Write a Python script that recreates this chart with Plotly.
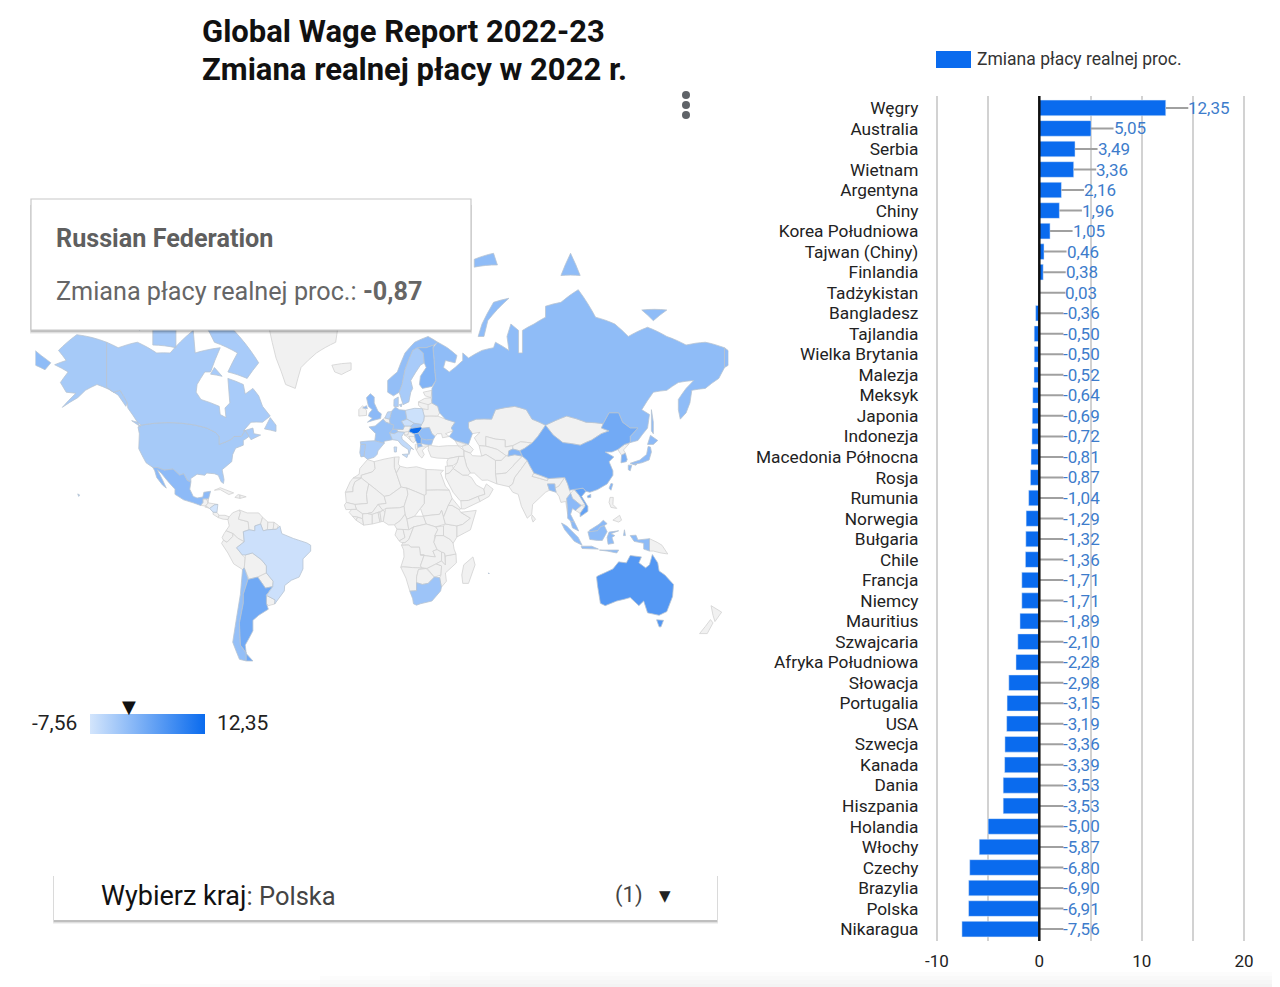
import plotly.graph_objects as go

# Dane z wykresu
kraje = ['Węgry', 'Australia', 'Serbia', 'Wietnam', 'Argentyna', 'Chiny', 'Korea Południowa',
         'Tajwan (Chiny)', 'Finlandia', 'Tadżykistan', 'Bangladesz', 'Tajlandia', 'Wielka Brytania',
         'Malezja', 'Meksyk', 'Japonia', 'Indonezja', 'Macedonia Północna', 'Rosja', 'Rumunia',
         'Norwegia', 'Bułgaria', 'Chile', 'Francja', 'Niemcy', 'Mauritius', 'Szwajcaria',
         'Afryka Południowa', 'Słowacja', 'Portugalia', 'USA', 'Szwecja', 'Kanada', 'Dania',
         'Hiszpania', 'Holandia', 'Włochy', 'Czechy', 'Brazylia', 'Polska', 'Nikaragua']
kody = ['HUN', 'AUS', 'SRB', 'VNM', 'ARG', 'CHN', 'KOR', 'TWN', 'FIN', 'TJK', 'BGD', 'THA', 'GBR',
        'MYS', 'MEX', 'JPN', 'IDN', 'MKD', 'RUS', 'ROU', 'NOR', 'BGR', 'CHL', 'FRA', 'DEU', 'MUS',
        'CHE', 'ZAF', 'SVK', 'PRT', 'USA', 'SWE', 'CAN', 'DNK', 'ESP', 'NLD', 'ITA', 'CZE', 'BRA',
        'POL', 'NIC']
zmiana = [12.35, 5.05, 3.49, 3.36, 2.16, 1.96, 1.05, 0.46, 0.38, 0.03, -0.36, -0.50, -0.50,
          -0.52, -0.64, -0.69, -0.72, -0.81, -0.87, -1.04, -1.29, -1.32, -1.36, -1.71, -1.71, -1.89,
          -2.10, -2.28, -2.98, -3.15, -3.19, -3.36, -3.39, -3.53, -3.53, -5.00, -5.87, -6.80, -6.90,
          -6.91, -7.56]
ticki_x = [-10, 0, 10, 20]

# Uproszczone granice krajów (lon,lat), bez sieci nie ma topojson z CDN
granice = {
    'RUS': ["28,60 30,62 29.5,64 29,67 28.5,69 31,70 36,69 41,67.5 40,66 35,66.5 34,65 37,64 40,65 44,66.5 44,68 47,67 54,68.5 60,69 61,70 68,68.5 67,71 69,73 73,72 73,68 75,68 75,72 81,73 87,74 87,75.5 95,76 104,77.5 113,74 123,73 130,71 140,72.5 150,71 160,69.5 170,70 180,69 180,65 177,62.5 170,60 163,59.5 162,56 160,53 157,51 156,54 156,57 160,60 164,62 156,61.5 150,59.5 143,59 137,54 141,52.5 140,48 135,43.5 131,42.7 131,45 135,48 131,48 127,50 125,53 120,53 117,49.5 108,50 98,52 92,50.5 87,49 80,51 77,54 71,55 61,54 59,51 51,51 47,50 47,48 49,46 47,42 40,43.5 37,45 39,47 38,48 40,50 35,51 32,53 31,55 28,56",
            "-180,69 -175,67.5 -170,66 -173,64.5 -178,65.5 -180,65",
            "52,71 55,71 57,73.5 68,76.5 60,76 54,73", "95,79 105,79 100,81", "137,75 150,75 143,73.5",
            "142,54 143,50 143,46 142,47 142,52", "50,80.5 60,81 62,80 50,79.8"],
    'USA': ["-124.7,48.4 -123,49 -95,49 -89,48 -84.5,46.5 -82.5,45 -82.5,42 -79,43 -76,44 -75,45 -71,45 -69,47.3 -67,45 -70,43.5 -70,41.7 -74,40.5 -75.5,38 -76,35 -81,31.5 -80,27 -80.3,25.2 -81.5,26 -83,29 -85,29.7 -89,30 -90,29 -94,29.5 -97.3,27.5 -97.2,26 -99,26.5 -101,29.7 -103,29 -106.5,31.8 -111,31.3 -114.8,32.5 -117,32.5 -120.5,34.5 -122.5,37.5 -124.3,40.3 -124,46",
            "-141,70 -156.5,71.3 -166,68.5 -162,66.5 -168,65.6 -161,64 -165,61.5 -162,59 -157,58.7 -164,54.7 -156,57.5 -152,59.5 -146,61 -140,59.8 -135,58.2 -131,55 -130.2,56 -134,59.5 -137.5,59 -141,60.3",
            "-155.5,19 -155,19.7 -156,20.2"],
    'CAN': ["-141,70 -141,60.3 -137.5,59 -134,59.5 -130.2,56 -130,54.5 -125,50 -123,49 -95,49 -89,48 -84.5,46.5 -82.5,45 -82.5,42 -79,43 -76,44 -75,45 -71,45 -69,47.3 -67,45 -66,43.8 -61,45.5 -64.5,46 -65,48 -70,47 -66,50 -60,50 -56,52 -60,55 -62,58 -65,60 -69,58.5 -70,61 -78,62.5 -77,56 -79.5,54.5 -79,51.5 -82,52.5 -82.5,55 -92,57 -94.5,59 -94,61 -90,64 -87,64 -82,69 -90,68.5 -95,68 -96,72 -108,68 -115,68 -125,70 -135,69",
            "-62,66 -68,62.5 -78,64 -73,68 -85,70 -90,73 -80,73.5 -72,71", "-105,69 -117,69.5 -117,73 -105,73",
            "-62,82.5 -75,83 -90,81 -88,77 -78,76.5 -75,79", "-124,72 -116,73.5 -120,74.5 -125,74",
            "-59,47.7 -53,46.8 -53,49 -56,51.5", "-80,75 -92,75 -92,76.5 -80,76", "-128,50.5 -123.5,48.5 -125,50",
            "-81,63 -85,65 -87,63.5"],
    'GRL': ["-73,78 -60,82 -35,83.5 -18,81 -20,74 -22,70 -32,68 -40,65 -43,60 -48,61 -53,67 -55,70 -60,76"],
    'ISL': ["-24,65.5 -14,66 -14,64.5 -19,63.4 -22.5,64"],
    'MEX': ["-117,32.5 -114.8,32.5 -111,31.3 -106.5,31.8 -103,29 -101,29.7 -99,26.5 -97.2,26 -97.8,22.5 -96,19 -94,18.2 -91,18.7 -90.5,21 -87,21.5 -88,18 -89,17.8 -91,17.8 -91,16 -92.2,14.5 -96,15.8 -101,17.3 -105.5,20 -105.5,22.5 -109,26 -112.7,30 -114.7,31.5 -112,27 -110,23 -112,24.5 -115,28 -116,31"],
    'NIC': ["-87.5,13 -85,14.8 -83.2,15 -83.7,11 -85.7,11.1"],
    'GTM': ["-92.2,14.5 -91,16 -91,17.8 -89,17.8 -88.3,15.8 -89.5,14.2"],
    'BLZ': ["-89,17.8 -88,18 -88.3,15.8"],
    'HND': ["-89.5,14.2 -88.3,15.8 -83.2,15 -85,14.8 -87.5,13"],
    'SLV': ["-90,13.7 -88,13.2 -89.5,14.2"],
    'CRI': ["-85.7,11.1 -83.7,11 -82.6,9.5 -83,8.3 -85.7,10"],
    'PAN': ["-83,8.3 -82.6,9.5 -79.5,9.5 -77.3,8.7 -78,7.3 -80.5,7.5"],
    'CUB': ["-85,22 -82,23.2 -75,20.7 -77.5,19.9 -82,22.3"],
    'HTI': ["-74.4,18.5 -72.7,19.9 -71.7,19.7 -71.7,18"],
    'DOM': ["-71.7,19.7 -68.5,18.8 -71.7,18"],
    'COL': ["-77.3,8.7 -75.5,10.8 -72,12.2 -71.5,11 -72.5,7.5 -67.5,6.2 -67,2 -70,1 -69.5,-4.2 -73,-2.3 -75.3,0 -79,1.5 -77.3,4 -78,7.3"],
    'VEN': ["-72,12.2 -68,10.7 -62,10.7 -60,8.5 -61,5 -64,4 -64,1.5 -67,2 -67.5,6.2 -72.5,7.5 -71.5,11"],
    'GUY': ["-60,8.5 -57.2,6 -57.5,2 -59.7,1.5 -61,5"],
    'SUR': ["-57.2,6 -54,5.9 -54.5,2.2 -57.5,2"],
    'GUF': ["-54,5.9 -51.7,4.2 -52.7,2.3 -54.5,2.2"],
    'ECU': ["-79,1.5 -75.3,0 -75.5,-1.5 -78.5,-4.5 -80.3,-3.4 -81,-2 -80,0"],
    'PER': ["-80.3,-3.4 -78.5,-4.5 -75.5,-1.5 -75.3,0 -73,-2.3 -69.5,-4.2 -73.5,-7.3 -70.5,-11 -69,-12.5 -69.5,-17.5 -70.4,-18.3 -75,-15.5 -78,-10 -81.3,-5"],
    'BOL': ["-69,-11 -65.3,-10 -60.5,-13.5 -58,-16.5 -58,-20 -62.5,-22 -67,-23 -69.5,-17.5 -69,-12.5"],
    'PRY': ["-62.5,-22 -58,-20 -54.5,-24 -54.7,-26.5 -58.5,-27.2"],
    'URY': ["-58,-34 -58,-30.5 -53.5,-32.5 -53.7,-34.3 -57,-35"],
    'CHL': ["-69.5,-17.5 -67.5,-23 -70,-30 -70,-34 -72,-42 -71.5,-50 -68.5,-52.5 -68.5,-55 -72,-54.5 -75.5,-49 -73.5,-40 -71.5,-30 -70.4,-18.3"],
    'ARG': ["-67,-23 -62.5,-22 -58.5,-27.2 -54.7,-26.5 -58,-30.5 -58,-34 -57,-36.5 -62,-39 -65,-41 -65,-45 -69,-50 -68.5,-52.5 -71.5,-50 -72,-42 -70,-34 -70,-30 -67.5,-23",
            "-68.5,-52.7 -65,-55 -68.5,-55"],
    'BRA': ["-69.5,-4.2 -70,1 -67,2 -64,1.5 -64,4 -61,5 -59.7,1.5 -57.5,2 -54.5,2.2 -52.7,2.3 -51,4 -50,0 -44,-2.5 -37,-4.8 -35,-6 -35,-9 -39,-13 -39,-18 -41,-22 -45,-23.5 -48.5,-26 -48.7,-28.5 -53.7,-34.3 -53.5,-32.5 -58,-30.5 -54.7,-26.5 -54.5,-24 -58,-20 -58,-16.5 -60.5,-13.5 -65.3,-10 -69,-11 -70.5,-11 -73.5,-7.3"],
    # Afryka
    'MAR': ["-13,27.7 -8.7,27.7 -8.7,29 -3,30.5 -1.5,32 -2,35 -5.5,35.9 -9.5,32 -9.8,29.5"],
    'ESH': ["-17,21 -13,21.3 -13,23.5 -12,26 -8.7,27.7 -13,27.7 -14.5,26"],
    'DZA': ["-8.7,27.7 -4.8,25 3.2,19 6,19.5 12,23.5 9.5,30 8.5,32.5 8.5,36.9 -2,35 -1.5,32 -3,30.5 -8.7,29"],
    'TUN': ["8.5,36.9 11,37 10.5,34 11.5,33 9.5,30 8.5,32.5"],
    'LBY': ["11.5,33 15,32.3 20,32.8 25,31.6 25,20 24,19.5 15,23 12,23.5 9.5,30"],
    'EGY': ["25,31.6 34,31.2 32.5,30 35,24 37,22 25,22"],
    'SDN': ["25,22 37,22 38.5,18 36.5,14.5 34,8.5 33,12 32,10 27,9.5 23.5,9 22,13 24,15.5 24,19.5 25,20"],
    'SSD': ["23.5,9 27,9.5 32,10 33,12 34,8.5 35,5 30,3.5 25,5"],
    'MRT': ["-17,21 -13,21.3 -13,23.5 -12,26 -8.7,27.7 -4.8,25 -6,20 -5.5,15.5 -12,15 -16.5,16"],
    'MLI': ["-12,15 -5.5,15.5 -6,20 -4.8,25 3.2,19 4.2,15.5 0,15 -3,11 -5.5,10.4 -8,10.2 -11.3,12.5"],
    'NER': ["3.2,19 6,19.5 12,23.5 15,23 15.5,20 13.5,14 11,13.3 4,13 2.5,12 0,15 4.2,15.5"],
    'TCD': ["15,23 24,19.5 24,15.5 22,13 19,9 15,7.5 14,10 13.5,14 15.5,20"],
    'SEN': ["-16.5,16 -12,15 -11.3,12.5 -16.7,12.4 -17.5,14.7"],
    'GIN': ["-15,11 -13.7,12.5 -11.3,12.5 -8,10.2 -8,7.7 -10.5,8.5 -13.3,9"],
    'SLE': ["-13.3,9 -10.5,8.5 -11.5,7"],
    'LBR': ["-11.5,7 -10.5,8.5 -8,7.7 -7.5,4.4"],
    'CIV': ["-8,10.2 -5.5,10.4 -3,10 -3,5 -7.5,4.4 -8,7.7"],
    'BFA': ["-5.5,10.4 -3,11 0,15 2.5,12 0,11 -3,10"],
    'GHA': ["-3,10 0,11 1,6 -3,5"],
    'TGO': ["0,11 1,11 1.7,6.2 1,6"],
    'BEN': ["1,11 2.5,12 3.7,11.5 2.7,6.3 1.7,6.2"],
    'NGA': ["2.7,6.3 3.7,11.5 4,13 11,13.3 13.5,14 14,10 11.5,6.7 8.5,4.6 5.5,4.5"],
    'CMR': ["8.5,4.6 11.5,6.7 14,10 15,7.5 16,2 9.8,2.3"],
    'CAF': ["15,7.5 19,9 23.5,9 25,5 18.5,3.5 16,2"],
    'GAB': ["9.8,2.3 13,2.2 14,-2 11,-3.8 8.8,-0.7"],
    'COG': ["13,2.2 16,2 18.5,3.5 16,-3 14,-4.7 12,-4.6 11,-3.8 14,-2"],
    'COD': ["18.5,3.5 25,5 30,3.5 31,2 29.5,-1 29,-4.5 30.7,-8.2 28.5,-9 29.8,-12 27,-11.7 22,-11 21.5,-7 17,-7 16,-5.9 12.2,-6 13,-4.7 14,-4.7 16,-3"],
    'AGO': ["12.2,-6 16,-5.9 17,-7 21.5,-7 22,-11 24,-11 22,-16.5 23,-17.6 13,-17 11.8,-17.2 13.5,-12 13.3,-8.5"],
    'ZMB': ["22,-11 27,-11.7 29.8,-12 28.5,-9 30.7,-8.2 33,-9.5 33,-14 30.2,-15.5 25.5,-17.8 23,-17.6 22,-16.5 24,-11"],
    'NAM': ["11.8,-17.2 13,-17 23,-17.6 25,-17.8 21,-18.3 20,-22 20,-28.4 16.5,-28.6 14.5,-22.5"],
    'BWA': ["21,-18.3 25,-17.8 29.3,-22 26,-25 23,-25.5 20,-24.7 20,-22"],
    'ZWE': ["25.5,-17.8 30.2,-15.5 33,-16.5 32.7,-21 29.3,-22"],
    'ZAF': ["16.5,-28.6 20,-28.4 20,-24.7 23,-25.5 26,-25 29.3,-22 32,-22.3 32.9,-26.8 32.5,-28.5 28,-33 22,-34.2 20,-34.8 18.4,-34.2 18,-32"],
    'MOZ': ["30.2,-15.5 33,-14 35,-16 35,-11.5 40.5,-10.5 40.7,-15 35,-20 35.5,-24 32.9,-26.8 32,-22.3 32.7,-21 33,-16.5"],
    'MWI': ["33,-9.5 34.5,-10 35,-16 33,-14"],
    'TZA': ["30.7,-8.2 29,-4.5 30,-1 34,-1 37.5,-3 39,-5 39.5,-8 40.5,-10.5 35,-11.5 34.5,-10 33,-9.5"],
    'KEN': ["34,-1 34,4 35,5 41,4 41,-1.7 39,-5 37.5,-3"],
    'UGA': ["31,2 30,3.5 34,4 34,-1 30,-1 29.5,-1"],
    'ETH': ["34,8.5 36.5,14.5 38.5,14.5 42,12.5 43,11 48,8 44,4.8 41,4 35,5"],
    'ERI': ["36.5,14.5 38.5,18 43,12.7 42,12.5 38.5,14.5"],
    'SOM': ["43,11 51,12 48,2 41,-1.7 41,4 44,4.8 48,8"],
    'MDG': ["49.3,-12 50.4,-16 47,-25 44,-25 43.5,-21 44.5,-16"],
    'MUS': ["57.3,-20 57.8,-20.2 57.5,-20.5"],
    # Europa
    'GBR': ["-5.5,50 1.3,51.2 1.7,52.7 0,53.5 -2,56 -2,57.7 -4,58.6 -6,57.5 -5,55 -3,54 -4.5,53 -5,52 -3,51.3", "-6,55.2 -8,54.5 -5.5,54.3"],
    'IRL': ["-10,52 -6,52.2 -6,53.8 -8,55.2 -10,54"],
    'NOR': ["5,59 8,58 11,59 12.5,61 14,64.5 18,68.5 20.5,69 25,69 29,69.5 31,70 26,71 19,70 14,68 10,64 5,62"],
    'SJM': ["12,79 20,80.3 27,80 20,77 15,77"],
    'SWE': ["11,59 13,55.5 16,56.3 17,59 18,60 17,62 22,65.5 24,66 23.5,68 20.5,69 18,68.5 14,64.5 12.5,61"],
    'FIN': ["21.5,61 23,60 28,60.5 30,62 29.5,64 29,67 28.5,69 29,69.5 25,69 20.5,69 23.5,68 24,66 25,65 22,63"],
    'DNK': ["8.2,55 10.5,54.9 10.5,57.7 8.3,57", "11,55.5 12.5,55.7 12,54.8"],
    'DEU': ["6,51 7,53.5 9,54.8 11,54 14.2,53.8 15,51 12.2,50.3 13.7,48.7 13,47.5 7.6,47.6 8.2,49 6.2,49.5"],
    'NLD': ["3.5,51.4 6,51 7,53.4 5,53.3"],
    'BEL': ["2.6,51 3.5,51.4 6,51 6.2,49.5 4,50"],
    'FRA': ["-1.7,43.4 -1.2,46 -4.7,48.4 -1.5,48.7 2.6,51 4,50 6.2,49.5 8.2,49 7.6,47.6 6,46.3 7.5,43.8 3.2,43.2 3.2,42.4"],
    'CHE': ["6,46.3 7.6,47.6 9.5,47.5 10.4,46.7 8.5,46"],
    'AUT': ["9.5,47.5 13,47.5 13.7,48.7 17,48.7 16,46.8 13.7,46.5 10.4,46.7"],
    'ESP': ["-9.2,43 -1.7,43.4 3.2,42.4 0,39.5 -0.5,38 -2,36.8 -5.5,36 -7.3,37.2 -7,39.5 -6.5,42 -9,42"],
    'PRT': ["-9,42 -6.5,42 -7,39.5 -7.3,37.2 -8.9,37 -9.5,38.7"],
    'ITA': ["7.5,43.8 6,46.3 8.5,46 10.4,46.7 13.7,46.5 12.3,45 12.5,44 16,41.8 18.5,40 17,40.5 16.5,39 16,38 15.7,40 12.3,41.7 10.3,43.5",
            "12.5,38 15.6,38.2 15,36.7", "8.3,41 9.7,41 9.5,39 8.5,39"],
    'POL': ["14.2,53.8 19,54.4 23,54.3 24,52 23.7,50.5 22.6,49.2 18.8,49.6 15,51"],
    'CZE': ["12.2,50.3 15,51 18.8,49.6 17,48.7 13.7,48.7"],
    'SVK': ["17,48.7 18.8,49.6 22.6,49.2 22,48.4 17.5,47.9"],
    'HUN': ["16,46.8 17,48 17.5,47.9 22,48.4 22.9,47.9 21,46.2 18.8,45.9"],
    'SVN': ["13.7,46.5 16,46.8 15.5,45.5 13.7,45.5"],
    'HRV': ["13.7,45.5 15.5,45.5 16,46.8 18.8,45.9 19,45 16,45 17.5,43 14.8,45"],
    'BIH': ["16,45 19,45 19.5,43.5 18.5,42.6 17.5,43"],
    'SRB': ["18.8,45.9 21,46.2 22.5,44.5 22.4,42.3 20.5,42.2 19.5,43.5 19,45"],
    'MKD': ["20.5,42.2 22.4,42.3 23,41.3 20.7,40.9"],
    'ALB': ["19.3,42 20.5,42.2 20.7,40.9 20,39.7 19.4,40.5"],
    'ROU': ["21,46.2 22.9,47.9 26.6,48.2 28,46 29.6,45 28.6,43.8 25,43.7 22.7,44"],
    'BGR': ["22.4,42.3 22.5,44.2 25,43.7 28.6,43.8 27.8,42 26.3,41.8"],
    'GRC': ["20,39.7 20.7,40.9 23,41.3 26.3,41.5 24,40.5 23,39.5 24,38 22.8,36.5 21.5,37.5"],
    'TUR': ["26,40 26.3,41.8 28,41.5 31.5,41.2 36,41.5 41.5,41.5 44.5,39.7 44.7,37.2 42,37.2 36.5,36.3 30.7,36.5 27.5,37"],
    'UKR': ["23.7,50.5 24,52 31,52 35,51 40,50 38,48 39,47 35,46 37,45 33.5,44.5 33,46 30.7,46 29.6,45 28,46 26.6,48.2 22.9,47.9 22,48.4 22.6,49.2"],
    'BLR': ["24,52 23,53.5 26,55.5 28,56 31,55 32,53 31,52"],
    'LTU': ["21,55.3 21,56.3 26,56 26,54 23,54.3"],
    'LVA': ["21,56.3 24.2,57.3 27.5,57.5 28,56 26,55.5"],
    'EST': ["23.5,59 28,59.5 27.5,57.5 24.5,58"],
    # Azja
    'GEO': ["40,43.5 46,41.8 43.5,41.2 41.5,41.5"],
    'AZE': ["43.5,41.2 46,41.8 47,42 49.5,40 48,38.5 44.7,39.5"],
    'KAZ': ["47,50 51,51 59,51 61,54 71,55 77,54 80,51 87,49 85,47 83,45 80,42.5 74,43 70,41.5 66,41 66,43.7 61,44 56,45 56,41.3 52.5,41.5 50,44.5 53,46.5 49,46 47,48"],
    'UZB': ["56,45 61,44 66,43.7 66,41 70,41.5 70,40.2 68,39.5 67.5,37.3 66.5,37.5 62,40 56,41.3"],
    'TKM': ["52.5,41.5 56,41.3 62,40 66.5,37.5 64,35.5 61,35.5 56,38 53.8,37.3"],
    'TJK': ["67.5,37.3 68,39.5 70,40.2 73.5,39.5 75,37.3 71,37.9"],
    'KGZ': ["70,40.2 70,41.5 74,43 80,42.5 76,40.4 73.5,39.5"],
    'AFG': ["61,35.5 64,35.5 66.5,37.5 67.5,37.3 71,37.9 75,37.3 71,34 70,33 66.5,30 61,29.5 61,31.5"],
    'PAK': ["61,29.5 66.5,30 70,33 71,34 75,37.3 77.5,35.5 74.5,32 71,28 70,25 68,23.7 61.7,25"],
    'IRN': ["44.7,39.5 48,38.5 49,37.5 53.8,37.3 56,38 61,35.5 61,31.5 61,29.5 61.7,25 57,26.8 54,26.7 50,30 48,30 46,33 44.7,37.2"],
    'IRQ': ["42,37.2 44.7,37.2 46,33 48,30 46.5,29 44,29 39,32 41,34.5"],
    'SYR': ["36.5,36.3 42,37.2 41,34.5 38.8,33.3 36,33 35.8,35"],
    'JOR': ["35,29.5 35,33 36,33 38.8,33.3 39,32 37,30"],
    'SAU': ["35,29.5 37,30 39,32 44,29 46.5,29 48.5,28 51,24.5 55,22.5 55.5,20 52,19 47,17 43,16.8 42.5,17 39,21 35,28"],
    'YEM': ["43,16.8 47,17 52,19 53,16.5 45,12.8 43.3,12.7"],
    'OMN': ["55,22.5 56.3,25 59.8,22.5 57.7,19 53,16.5 52,19 55.5,20"],
    'IND': ["68,23.7 70,25 71,28 74.5,32 77.5,35.5 79,33 81,30 80,28.5 88,26.5 88.5,27.5 92,27.7 97,28 94,24 92,23 91.8,25 88,25 89,22 87,21 80.3,15 79.8,10 77.5,8 74.5,14 72.8,20 70,21"],
    'BGD': ["88,25 91.8,25 92,23 92.5,21 89,22"],
    'NPL': ["80,28.5 81,30 88,27.7 88,26.5"],
    'MMR': ["92.5,21 92,23 94,24 97,28 98.5,25 99.5,22 100,20.5 98,18 98.5,10 97.5,16.5 95,16 94,19"],
    'THA': ["98,18 100,20.5 101,18 105.5,14.5 102.5,12 101,13 100,10 102,6 100,6.5 98.5,8 98.5,12"],
    'LAO': ["100,20.5 101.7,22.3 104.5,19.5 107.5,15 105.5,14.5 101,18"],
    'VNM': ["102,22.4 106.5,23 108,21.5 105.8,19 109,14 109,11.5 105,8.7 105,10.5 107.5,14 107.5,15 104.5,19.5"],
    'KHM': ["102.5,12 105.5,14.5 107.5,14 105,10.5"],
    'MYS': ["100,6.5 102,6 103.5,3 104.2,1.4 101,3", "109.7,1.7 111.5,2.8 115,5 117,7 119,5.2 117.5,4.2 115.5,3.5 114,1.5 110,1"],
    'IDN': ["95.3,5.5 98,4 104,-2 106,-6 102,-4 97,2", "105.5,-6.5 111,-6.5 114.5,-8 106,-7.7",
            "109,1 110,1 114,1.5 115.5,3.5 117.5,4.2 119,1 116.5,-3.5 114,-3.5 110,-3",
            "119.5,-5.5 119,-2 120,0.8 125,1.5 121,0 123,-1 121.5,-2 122.5,-5",
            "131,-1 134,-0.8 135,-3.3 141,-2.6 141,-9 138,-8 138,-5 133,-4",
            "115,-8.5 125,-8.5 124,-10 119,-9", "128,2 128.5,-1 127.5,-1"],
    'PNG': ["141,-2.6 145,-4.5 147.5,-6 150.5,-10.5 147,-10 143,-9 141,-9"],
    'PHL': ["120.5,18.5 122.2,18.5 122,15 124,13 121,13.5 120,16", "122,7 125.5,9.5 126.5,7 125,6"],
    'JPN': ["131,34.3 136,35.7 139.5,38 140.3,41.2 141.5,41 142,39 140.8,35.7 137,34.5 132.5,33.8",
            "140,42 141.5,45.4 145.3,43.5 143,42", "130,33.5 131.8,33.5 131,31 130,31.5", "132.5,33.8 134.5,34.2 134,33.5"],
    'KOR': ["126.2,34.5 126.5,37.7 128.5,38.5 129.4,36 129,35"],
    'PRK': ["124.5,40 126.5,37.7 128.5,38.5 127.5,39.8 130.5,42.3 128,42"],
    'TWN': ["120,23 121,25.2 122,25 121,22"],
    'CHN': ["73.7,39.5 76,40.4 80,42.5 83,45 85,47 87,49 91,45.5 96,42.7 105,41.7 111,43.7 116,46 120,47 116,48 117,49.5 120,53 125,53 127,50 131,48 135,48 131,45 131,42.7 128,42 124.5,40 121.5,39 118,39 122.5,37 120,35 122,31 122,29 119,25 114,22.3 110,21 108,21.5 106.5,23 102,22.4 101.7,22.3 99.5,22 98.5,25 97,28 92,27.7 88.5,27.5 88,27.7 81,30 79,33 77.5,35.5 75,37.3",
            "108.7,19.2 110.5,20 110.5,18.5 109,18.3"],
    'MNG': ["87,49 92,50.5 98,52 108,50 117,49.5 116,48 120,47 116,46 111,43.7 105,41.7 96,42.7 91,45.5"],
    'LKA': ["80,9.7 81.8,7.5 80.5,6 79.8,8"],
    'AUS': ["113.5,-22 114,-26 115.5,-34 118,-35 124,-33 131,-31.5 135.5,-35 138,-33 140,-38 146,-39 150,-37.5 153,-31 153.5,-25.5 149,-21 146,-19 145.3,-15 142.5,-10.8 141,-16 139,-17.5 135.5,-15 136.8,-12 131,-11.3 129,-15 125,-14.5 122,-18 114,-21.5",
            "144.7,-40.8 148.3,-41 147,-43.5 146,-43.5"],
    'NZL': ["173,-35 178.5,-37.7 175,-41.5 174,-39", "172.7,-40.7 174,-42 171,-46 167,-46"],
}

# Strona dokleja 8 px marginesu, więc figura jest mniejsza i przesunięta
W, H = 1272, 979
NIEBIESKI = '#0a6bee'
JASNY = '#d3e5fc'
RGB_NIEB = (10, 107, 238)
RGB_JASNY = (211, 229, 252)


def px(x):
    return (x - 8) / W


def py(y):
    return 1 - (y - 8) / H


def pierscien(s):
    p = [[float(v) for v in para.split(',')] for para in s.split()]
    pole = sum(a[0] * b[1] - b[0] * a[1] for a, b in zip(p, p[1:] + p[:1]))
    if pole > 0:  # d3 chce pierścień zgodnie z ruchem wskazówek
        p = p[::-1]
    return p + [p[0]]


def kolor(v):
    t = (v - min(zmiana)) / (max(zmiana) - min(zmiana))
    return 'rgb(%d,%d,%d)' % tuple(a + (b - a) * t for a, b in zip(RGB_JASNY, RGB_NIEB))


etykiety = [f'{v:.2f}'.replace('.', ',') for v in zmiana]
koniec = [max(v, 0) for v in zmiana]
# Początek etykiety: ujemne mają minus wchodzący na linię
kotwica = [max(v, 0.35) + 2.2 if v >= 0 else 2.35 for v in zmiana]

fig = go.Figure()

# Mapa: najpierw kraje bez danych, potem kraje z danymi
wartosc = dict(zip(kody, zmiana))
for kod in sorted(granice, key=lambda k: k in wartosc):
    lon, lat = [], []
    for r in granice[kod]:
        p = pierscien(r)
        lon += [a[0] for a in p] + [None]
        lat += [a[1] for a in p] + [None]
    dane = kod in wartosc
    fig.add_trace(go.Scattergeo(lon=lon, lat=lat, mode='lines', fill='toself', hoverinfo='skip', showlegend=False,
                                fillcolor=kolor(wartosc[kod]) if dane else '#f1f1f1',
                                line=dict(color='#b8c4d2' if dane else '#d2d2d2', width=0.8)))
# Wysoka domena: dopasowanie idzie po szerokości i nic nie ucina boków mapy
fig.update_geos(
    domain=dict(x=[px(35.4), px(728.4)], y=[py(752), py(152)]),
    projection_type='mercator', projection_rotation_lon=2,
    center=dict(lon=2, lat=39), lonaxis_range=[-178, 182], lataxis_range=[-60, 83],
    showframe=False, showcoastlines=False, showocean=False, showlakes=False, showland=False,
    showcountries=False, showrivers=False, bgcolor='rgba(0,0,0,0)',
)

# Słupki
fig.add_trace(go.Bar(x=zmiana, y=kraje, orientation='h', marker_color=NIEBIESKI, width=0.76,
                     name='Zmiana płacy realnej proc.', showlegend=False))

# Niewidoczny ślad, który daje skalę barw pod mapą
fig.add_trace(go.Scatter(x=zmiana, y=kraje, mode='markers', showlegend=False, hoverinfo='skip',
                         marker=dict(size=1, opacity=0, color=zmiana, cmin=min(zmiana), cmax=max(zmiana),
                                     colorscale=[[0, JASNY], [1, NIEBIESKI]],
                                     colorbar=dict(orientation='h', lenmode='pixels', len=115, thicknessmode='pixels',
                                                   thickness=20, x=px(90), xanchor='left', y=py(724), yanchor='middle',
                                                   xpad=0, ypad=0, outlinewidth=0, showticklabels=False, ticks=''))))

# Linie prowadzące do etykiet
lx, ly = [], []
for k, t, n in zip(koniec, kotwica, kraje):
    lx += [k, t, None]
    ly += [n, n, None]
fig.add_trace(go.Scatter(x=lx, y=ly, mode='lines', line=dict(color='#a0a0a0', width=2),
                         showlegend=False, hoverinfo='skip'))
for t, n, e in zip(kotwica, kraje, etykiety):
    fig.add_annotation(x=t, y=n, xref='x', yref='y', text=e, showarrow=False, xanchor='left',
                       yanchor='middle', xshift=-1, borderpad=0,
                       font=dict(family='Roboto', size=17, color='#3d7ccb'))

fig.update_xaxes(domain=[px(935.4), px(1245.6)], range=[-10.15, 20.15], tickmode='array', tickvals=ticki_x,
                 ticktext=[str(t) for t in ticki_x], showgrid=True, gridcolor='#d2d2d2', gridwidth=1.5,
                 minor=dict(tickmode='linear', dtick=5, showgrid=True, gridcolor='#d2d2d2', gridwidth=1.5),
                 zeroline=False, showline=False, ticks='',
                 tickfont=dict(family='Roboto', size=17, color='#222222'), ticklabelstandoff=8)
fig.update_yaxes(domain=[py(941), py(96)], range=[40.58, -0.58], showgrid=False, showline=False, ticks='',
                 tickmode='linear', dtick=1, tickfont=dict(family='Roboto', size=17.3, color='#222222'),
                 ticklabelstandoff=16)

# Ramki: dymek, filtr, legenda
ksztalty = [dict(type='line', xref='x', yref='y domain', x0=0, x1=0, y0=0, y1=1, line=dict(color='#111111', width=2.5))]
for i, a in zip([3, 2, 1], [0.05, 0.08, 0.14]):
    ksztalty.append(dict(type='rect', xref='paper', yref='paper', x0=px(31 - i / 3), x1=px(471 + i / 3), y0=py(331 + i), y1=py(205),
                         fillcolor=f'rgba(0,0,0,{a})', line_width=0))
    ksztalty.append(dict(type='rect', xref='paper', yref='paper', x0=px(54 - i / 3), x1=px(717 + i / 3), y0=py(921 + i), y1=py(876),
                         fillcolor=f'rgba(0,0,0,{a})', line_width=0))
ksztalty.append(dict(type='rect', xref='paper', yref='paper', x0=px(31), x1=px(471), y0=py(330), y1=py(199),
                     fillcolor='white', line=dict(color='#c8c8c8', width=1.2)))
ksztalty.append(dict(type='rect', xref='paper', yref='paper', x0=px(54), x1=px(717), y0=py(920), y1=py(872),
                     fillcolor='white', line_width=0))
ksztalty.append(dict(type='rect', xref='paper', yref='paper', x0=px(936), x1=px(971), y0=py(68), y1=py(51),
                     fillcolor=NIEBIESKI, line_width=0))
# Trzy kropki menu
for y in [95, 105, 115]:
    ksztalty.append(dict(type='circle', xref='paper', yref='paper', x0=px(682), x1=px(690), y0=py(y + 4), y1=py(y - 4),
                         fillcolor='#5f6368', line_width=0))
# Rozjaśnienie na dole strony
for x0, y0 in [(140, 984), (220, 980), (320, 976), (430, 972)]:
    ksztalty.append(dict(type='rect', xref='paper', yref='paper', x0=px(x0), x1=1, y0=0, y1=py(y0),
                         fillcolor='rgba(0,0,0,0.013)', line_width=0))
fig.update_layout(shapes=ksztalty)


def tekst(x, y, t, size, color='#222222', anchor='left', rodzina='Roboto'):
    fig.add_annotation(xref='paper', yref='paper', x=px(x), y=py(y), text=t, showarrow=False, xanchor=anchor,
                       yanchor='middle', borderpad=0, align='left',
                       font=dict(family=rodzina, size=size, color=color))


tekst(201, 31.5, '<b>Global Wage Report 2022-23</b>', 31, '#111111')
tekst(201, 69, '<b>Zmiana realnej płacy w 2022 r.</b>', 31, '#111111')
tekst(55, 238, '<b>Russian Federation</b>', 25.2, '#5f5f5f')
tekst(55, 291, 'Zmiana płacy realnej proc.: <b>-0,87</b>', 25.2, '#666666')
tekst(976, 59, 'Zmiana płacy realnej proc.', 17.5, '#333333')
tekst(31, 723, etykiety[-1], 21)
tekst(216, 723, etykiety[0], 21)
tekst(100, 896, 'Wybierz kraj<span style="font-size:25.5px;color:#444444">: Polska</span>', 27, '#111111')
tekst(614, 895, '(1)', 22, '#444444')
tekst(665, 896, '▼', 15, '#222222', anchor='center', rodzina='DejaVu Sans')
# Znacznik Rosji na skali
rosja = zmiana[kraje.index('Rosja')]
poz = 90 + 115 * (rosja - min(zmiana)) / (max(zmiana) - min(zmiana))
tekst(poz, 706, '▼', 18, '#111111', anchor='center', rodzina='DejaVu Sans')

fig.update_layout(width=W, height=H, margin=dict(l=0, r=0, t=0, b=0, autoexpand=False), paper_bgcolor='white',
                  plot_bgcolor='white', showlegend=False, font=dict(family='Roboto'))

fig.write_html("out.html")
